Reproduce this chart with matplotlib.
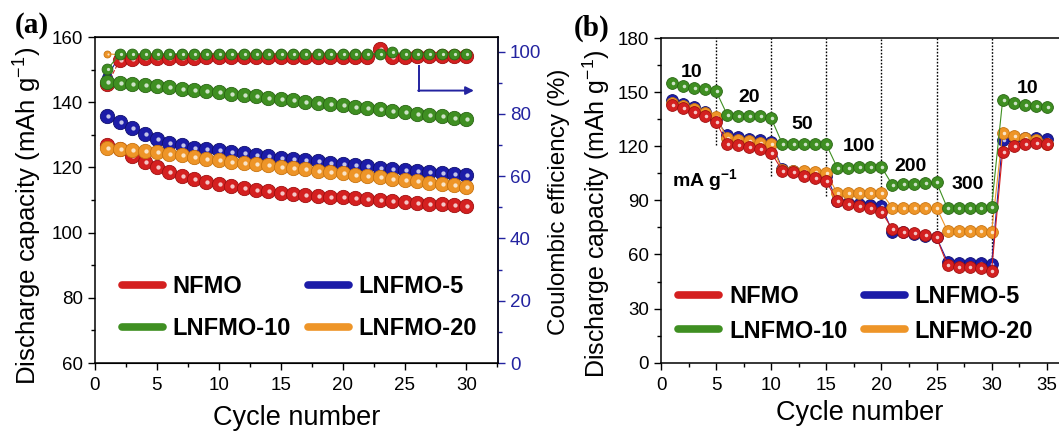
#!/usr/bin/env python3
"""Cycling performance (a) and rate capability (b) of NFMO / LNFMO samples."""

import matplotlib
matplotlib.use("Agg")
import matplotlib.pyplot as plt
from matplotlib.lines import Line2D
from matplotlib.ticker import MultipleLocator

plt.rcParams["font.family"] = ["Liberation Sans", "DejaVu Sans"]
plt.rcParams["mathtext.fontset"] = "custom"
plt.rcParams["mathtext.rm"] = "Liberation Sans"
plt.rcParams["mathtext.bf"] = "Liberation Sans:bold"

SAMPLES = ["NFMO", "LNFMO-5", "LNFMO-10", "LNFMO-20"]
COLORS = {
    "NFMO": "#d42020",
    "LNFMO-5": "#1c1ca8",
    "LNFMO-10": "#3f8f22",
    "LNFMO-20": "#ee9528",
}
EDGE = {
    "NFMO": "#a01010",
    "LNFMO-5": "#101070",
    "LNFMO-10": "#2a6614",
    "LNFMO-20": "#c87410",
}
AXIS_BLUE = "#2323a0"

# ---- panel (a): cycling at constant rate ----
cycles_a = list(range(1, 31))
cap_a = {
    "NFMO": [127.0, 125.5, 123.5, 121.8, 120.0, 118.5, 117.4, 116.5, 115.6, 114.9,
             114.3, 113.8, 113.2, 112.7, 112.3, 111.9, 111.6, 111.3, 111.0, 110.8,
             110.5, 110.2, 109.9, 109.6, 109.3, 109.1, 108.9, 108.7, 108.5, 108.3],
    "LNFMO-5": [135.8, 134.0, 132.0, 130.3, 128.6, 127.5, 126.8, 126.1, 125.7, 125.3,
                124.8, 124.3, 123.9, 123.4, 123.0, 122.6, 122.2, 121.9, 121.5, 121.1,
                120.7, 120.3, 119.9, 119.5, 119.2, 118.8, 118.5, 118.2, 117.9, 117.6],
    "LNFMO-10": [146.2, 146.0, 145.7, 145.4, 145.0, 144.6, 144.2, 143.8, 143.4, 143.0,
                 142.6, 142.2, 141.8, 141.4, 141.0, 140.6, 140.2, 139.8, 139.4, 139.0,
                 138.6, 138.2, 137.8, 137.4, 137.0, 136.5, 136.1, 135.7, 135.3, 134.9],
    "LNFMO-20": [126.0, 125.7, 125.4, 125.0, 124.6, 124.2, 123.7, 123.2, 122.7, 122.2,
                 121.8, 121.4, 121.0, 120.6, 120.2, 119.8, 119.4, 119.0, 118.6, 118.2,
                 117.8, 117.4, 117.0, 116.6, 116.2, 115.7, 115.3, 114.9, 114.5, 114.1],
}
ce_a = {
    "NFMO": [89.5, 97.3, 97.8, 98.0, 98.0, 98.1, 98.1, 98.1, 98.2, 98.2,
             98.2, 98.2, 98.3, 98.3, 98.4, 98.3, 98.3, 98.3, 98.3, 98.4,
             98.4, 98.4, 101.0, 98.4, 98.4, 98.5, 98.5, 98.5, 98.5, 98.5],
    "LNFMO-5": [92.0, 98.8, 99.0, 99.0, 99.0, 99.1, 99.1, 99.1, 99.1, 99.1,
                99.1, 99.1, 99.1, 99.1, 99.1, 99.1, 99.1, 99.1, 99.1, 99.1,
                99.1, 99.1, 99.1, 99.1, 99.1, 99.1, 99.1, 99.1, 99.1, 99.1],
    "LNFMO-10": [94.3, 99.3, 99.3, 99.3, 99.3, 99.3, 99.3, 99.3, 99.3, 99.3,
                 99.3, 99.3, 99.3, 99.3, 99.3, 99.3, 99.3, 99.3, 99.3, 99.3,
                 99.3, 99.3, 99.3, 99.8, 99.3, 99.3, 99.3, 99.3, 99.3, 99.3],
    "LNFMO-20": [99.3, 99.0, 99.0, 99.0, 99.0, 99.0, 99.0, 99.0, 99.0, 99.0,
                 99.0, 99.0, 99.0, 99.0, 99.0, 99.0, 99.0, 99.0, 99.0, 99.0,
                 99.0, 99.0, 99.0, 99.0, 99.0, 99.0, 99.0, 99.0, 99.0, 99.0],
}

# ---- panel (b): rate capability ----
cycles_b = list(range(1, 36))
cap_b = {
    "NFMO": [143.0, 141.0, 139.0, 136.5, 133.5,
             121.5, 120.5, 119.5, 118.5, 116.5,
             106.5, 105.5, 103.5, 102.5, 100.5,
             89.5, 88.0, 87.0, 85.5, 83.7,
             74.0, 72.6, 71.7, 70.8, 69.5,
             54.0, 53.0, 53.0, 52.3, 51.0,
             117.0, 120.0, 121.0, 122.0, 121.5],
    "LNFMO-5": [145.5, 143.5, 141.5, 139.0, 135.0,
                126.0, 125.0, 124.0, 123.5, 122.5,
                107.5, 106.5, 105.5, 105.0, 103.5,
                89.5, 88.5, 88.0, 87.5, 87.0,
                72.5, 72.5, 71.5, 70.5, 69.5,
                56.0, 55.5, 55.5, 55.0, 54.5,
                123.5, 124.5, 124.5, 124.5, 124.0],
    "LNFMO-10": [155.0, 153.5, 152.5, 151.5, 150.5,
                 137.5, 137.0, 137.0, 136.5, 135.5,
                 121.5, 121.5, 121.5, 121.0, 121.0,
                 108.0, 108.0, 108.5, 108.5, 108.5,
                 98.5, 99.0, 99.0, 99.5, 100.0,
                 85.5, 85.5, 85.5, 85.5, 86.5,
                 145.5, 144.0, 143.0, 142.5, 141.5],
    "LNFMO-20": [144.0, 142.5, 140.5, 138.5, 136.0,
                 124.5, 123.5, 123.0, 122.0, 121.0,
                 107.0, 106.5, 106.5, 106.0, 105.0,
                 94.0, 94.0, 94.0, 94.0, 94.0,
                 86.0, 86.0, 86.0, 86.0, 86.0,
                 73.0, 73.0, 73.0, 73.0, 72.6,
                 127.5, 125.5, 124.5, 123.5, 121.0],
}
rate_switch = [5, 10, 15, 20, 25, 30]
switch_low = [120.5, 103.5, 92.5, 88.0, 72.0, 51.5]
rate_labels = ["10", "20", "50", "100", "200", "300", "10"]
rate_label_x = [2.8, 8.0, 12.8, 18.0, 22.6, 27.8, 33.3]
rate_label_y = [161, 147, 132, 120, 109, 99, 152]


def sphere(ax, xs, ys, name, ms, zorder, line=True, lw=0.8):
    if line:
        ax.plot(xs, ys, "-", color=COLORS[name], lw=lw, zorder=zorder)
    ax.plot(xs, ys, "o", ls="none", ms=ms, mfc=COLORS[name], mec=EDGE[name],
            mew=0.6, zorder=zorder + 0.1)
    ax.plot([x + 0.08 for x in xs], ys, "o", ls="none", ms=ms * 0.3,
            mfc="white", mec="none", alpha=0.75, zorder=zorder + 0.2)


def legend(ax, anchor, spacing):
    # legend fills column-wise; this order gives rows NFMO/LNFMO-5, LNFMO-10/LNFMO-20
    order = ["NFMO", "LNFMO-10", "LNFMO-5", "LNFMO-20"]
    handles = [Line2D([], [], color=COLORS[n], lw=5.5, solid_capstyle="round")
               for n in order]
    leg = ax.legend(handles, order, ncol=2, loc="upper left",
                    bbox_to_anchor=anchor, frameon=False, borderpad=0,
                    borderaxespad=0, handlelength=1.75, handletextpad=0.4,
                    columnspacing=0.7, labelspacing=spacing,
                    prop={"weight": "bold", "size": 17})
    return leg


def style(ax):
    ax.tick_params(axis="both", which="major", direction="out", length=5,
                   width=1.0, labelsize=13.5, top=False, right=False)
    ax.tick_params(axis="x", which="major", pad=5)
    ax.tick_params(axis="both", which="minor", direction="out", length=3,
                   width=1.0, top=False, right=False)
    for sp in ax.spines.values():
        sp.set_linewidth(1.1)


fig = plt.figure(figsize=(10.59, 4.32), dpi=100)

# ---------------- (a) ----------------
ax = fig.add_axes([0.0897, 0.1597, 0.3806, 0.7546])
ax2 = ax.twinx()
ax.set_zorder(ax2.get_zorder() + 1)
ax.patch.set_visible(False)

for name, z in [("NFMO", 3), ("LNFMO-5", 4), ("LNFMO-20", 5), ("LNFMO-10", 6)]:
    sphere(ax, cycles_a, cap_a[name], name, 10.3, z, line=False)

for name, z, ms in [("LNFMO-20", 2, 5.0), ("LNFMO-5", 3, 7.0),
                    ("NFMO", 4, 10.3), ("LNFMO-10", 5, 7.8)]:
    ax2.plot(cycles_a, ce_a[name], "--" if name == "NFMO" else "-",
             color=COLORS[name], lw=0.8, zorder=z)
    sphere(ax2, cycles_a, ce_a[name], name, ms, z, line=False)

ax.set_xlim(0, 32.55)
ax.set_ylim(60, 160)
ax2.set_ylim(0, 104.7)
ax.xaxis.set_major_locator(MultipleLocator(5))
ax.xaxis.set_minor_locator(MultipleLocator(2.5))
ax.yaxis.set_major_locator(MultipleLocator(20))
ax.yaxis.set_minor_locator(MultipleLocator(10))
ax2.yaxis.set_major_locator(MultipleLocator(20))
ax2.yaxis.set_minor_locator(MultipleLocator(10))
style(ax)
ax2.tick_params(axis="y", which="major", direction="out", length=5, width=1.0,
                labelsize=13.5, colors=AXIS_BLUE)
ax2.tick_params(axis="y", which="minor", direction="out", length=3, width=1.0,
                colors=AXIS_BLUE)
ax2.spines["right"].set_color(AXIS_BLUE)
ax2.spines["right"].set_linewidth(1.1)
ax2.spines["left"].set_visible(False)

ax.set_xlabel("Cycle number", fontsize=19.5)
ax.xaxis.set_label_coords(0.5, -0.128)
ax.set_ylabel("Discharge capacity (mAh g$^{-1}$)", fontsize=18.5)
ax.yaxis.set_label_coords(-0.128, 0.45)
ax2.set_ylabel("Coulombic efficiency (%)", fontsize=17.5)
ax2.yaxis.set_label_coords(1.125, 0.495)

# arrow pointing to the right axis
ax2.plot([26.2, 26.2], [95.4, 87.5], color=AXIS_BLUE, lw=1.4, zorder=8)
ax2.annotate("", xy=(30.6, 87.5), xytext=(26.1, 87.5),
             arrowprops=dict(arrowstyle="-|>", color=AXIS_BLUE, lw=1.4,
                             mutation_scale=12, shrinkA=0, shrinkB=0),
             zorder=8)

legend(ax, (0.067, 0.27), 0.8)
fig.text(0.030, 0.942, "(a)", fontsize=21, fontweight="bold",
         family="Liberation Serif", ha="center", va="center")

# ---------------- (b) ----------------
bx = fig.add_axes([0.6242, 0.1604, 0.385, 0.7516])
for x, lo in zip(rate_switch, switch_low):
    bx.plot([x, x], [lo, 180], ls=(0, (1.2, 1.2)), color="black", lw=1.0,
            zorder=1)

for name, z in [("LNFMO-5", 3), ("LNFMO-20", 4), ("NFMO", 5), ("LNFMO-10", 6)]:
    sphere(bx, cycles_b, cap_b[name], name, 8.5, z, line=True)

for txt, x, y in zip(rate_labels, rate_label_x, rate_label_y):
    bx.text(x, y, txt, fontsize=14, fontweight="bold", ha="center",
            va="center", zorder=10)
bx.text(4.0, 101, "mA g$^{\\mathbf{-1}}$", fontsize=14, fontweight="bold",
        ha="center", va="center", zorder=10)

bx.set_xlim(0, 37)
bx.set_ylim(0, 180)
bx.xaxis.set_major_locator(MultipleLocator(5))
bx.xaxis.set_minor_locator(MultipleLocator(2.5))
bx.yaxis.set_major_locator(MultipleLocator(30))
bx.yaxis.set_minor_locator(MultipleLocator(15))
style(bx)
bx.set_xlabel("Cycle number", fontsize=19.5)
bx.xaxis.set_label_coords(0.488, -0.115)
bx.set_ylabel("Discharge capacity (mAh g$^{-1}$)", fontsize=18)
bx.yaxis.set_label_coords(-0.12, 0.458)

legend(bx, (0.042, 0.24), 0.5)
fig.text(0.559, 0.935, "(b)", fontsize=21, fontweight="bold",
         family="Liberation Serif", ha="center", va="center")

fig.savefig("out.png", dpi=100)
